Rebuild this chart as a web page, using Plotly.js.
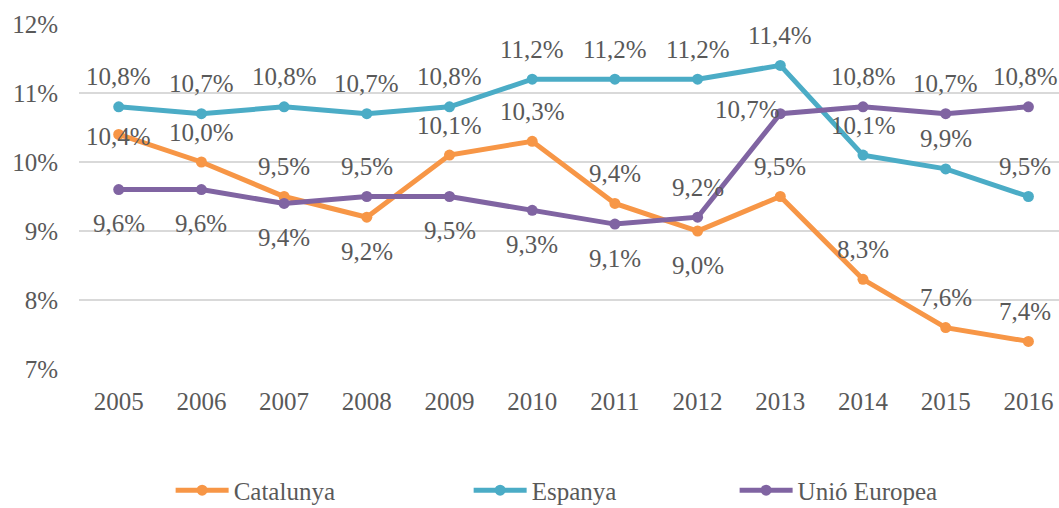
<!DOCTYPE html>
<html>
<head>
<meta charset="utf-8">
<script src="https://cdn.plot.ly/plotly-3.0.1.min.js"></script>
<style>
  html, body { margin: 0; padding: 0; background: #fff; }
  #chart { width: 1059px; height: 508px; }
</style>
</head>
<body>
<div id="chart"></div>
<script>
// === DATA ===
const years = ['2005', '2006', '2007', '2008', '2009', '2010', '2011', '2012', '2013', '2014', '2015', '2016'];
const catalunya = [10.4, 10.0, 9.5, 9.2, 10.1, 10.3, 9.4, 9.0, 9.5, 8.3, 7.6, 7.4];
const espanya = [10.8, 10.7, 10.8, 10.7, 10.8, 11.2, 11.2, 11.2, 11.4, 10.1, 9.9, 9.5];
const unioEuropea = [9.6, 9.6, 9.4, 9.5, 9.5, 9.3, 9.1, 9.2, 10.7, 10.8, 10.7, 10.8];

// where each data label sits relative to its point
const catLabelPos = ['mid', 'top', 'top', 'bot', 'top', 'top', 'top', 'bot', 'top', 'top', 'top', 'top'];
const espLabelPos = ['top', 'top', 'top', 'top', 'top', 'top', 'top', 'top', 'top', 'top', 'top', 'top'];
const ueLabelPos = ['bot', 'bot', 'bot', 'top', 'bot', 'bot', 'bot', 'top', 'left', 'top', 'top', 'top'];

const FONT = 'Liberation Serif, Times New Roman, serif';
const TEXT = '#595959';

const series = [
  { name: 'Catalunya', y: catalunya, color: '#F79646', pos: catLabelPos, legend: 'legend', lx: 0.0935 },
  { name: 'Espanya', y: espanya, color: '#4BACC6', pos: espLabelPos, legend: 'legend2', lx: 0.3976 },
  { name: 'Unió Europea', y: unioEuropea, color: '#8064A2', pos: ueLabelPos, legend: 'legend3', lx: 0.669 }
];

const fmt = v => v.toFixed(1).replace('.', ',') + '%';

const traces = series.map(s => ({
  type: 'scatter',
  mode: 'lines+markers',
  name: s.name,
  legend: s.legend,
  x: years,
  y: s.y,
  line: { color: s.color, width: 5 },
  marker: { color: s.color, size: 11 },
  hoverinfo: 'skip'
}));

// data labels as annotations so the offset can match the original
// (x given as category index: '2005' would be read as index 2005)
const annotations = [];
series.forEach(s => {
  s.y.forEach((v, i) => {
    const p = s.pos[i];
    const a = {
      x: i, y: v, text: fmt(v), showarrow: false,
      font: { family: FONT, size: 25, color: TEXT },
      xanchor: 'center', yanchor: 'middle'
    };
    if (p === 'top') a.yshift = 30;
    else if (p === 'bot') a.yshift = -34;
    else if (p === 'mid') a.yshift = -2;
    else if (p === 'left') { a.xanchor = 'right'; a.xshift = 2; a.yshift = 4; }
    // last column sits against the right edge
    if (i === years.length - 1) a.xshift = -3;
    annotations.push(a);
  });
});

const legendBase = {
  orientation: 'h',
  xanchor: 'left',
  y: -0.352, yanchor: 'middle',
  itemwidth: 53,
  font: { family: FONT, size: 25, color: TEXT },
  itemclick: false
};

const layout = {
  width: 1059,
  height: 508,
  margin: { l: 79, r: 0, t: 24, b: 139, autoexpand: false },
  paper_bgcolor: '#fff',
  plot_bgcolor: '#fff',
  showlegend: true,
  font: { family: FONT, size: 25, color: TEXT },
  xaxis: {
    type: 'category',
    range: [-0.48, 11.37],
    showgrid: false,
    showline: false,
    zeroline: false,
    ticks: '',
    ticklabelstandoff: 15,
    tickfont: { family: FONT, size: 25, color: TEXT }
  },
  yaxis: {
    range: [7, 12],
    dtick: 1,
    ticksuffix: '%',
    showgrid: true,
    gridcolor: '#D9D9D9',
    gridwidth: 2,
    zeroline: false,
    showline: false,
    ticks: '',
    ticklabelstandoff: 20,
    tickfont: { family: FONT, size: 25, color: TEXT }
  },
  legend: { ...legendBase, x: series[0].lx },
  legend2: { ...legendBase, x: series[1].lx },
  legend3: { ...legendBase, x: series[2].lx },
  annotations: annotations
};

Plotly.newPlot('chart', traces, layout, { displayModeBar: false, staticPlot: true });
</script>
</body>
</html>
